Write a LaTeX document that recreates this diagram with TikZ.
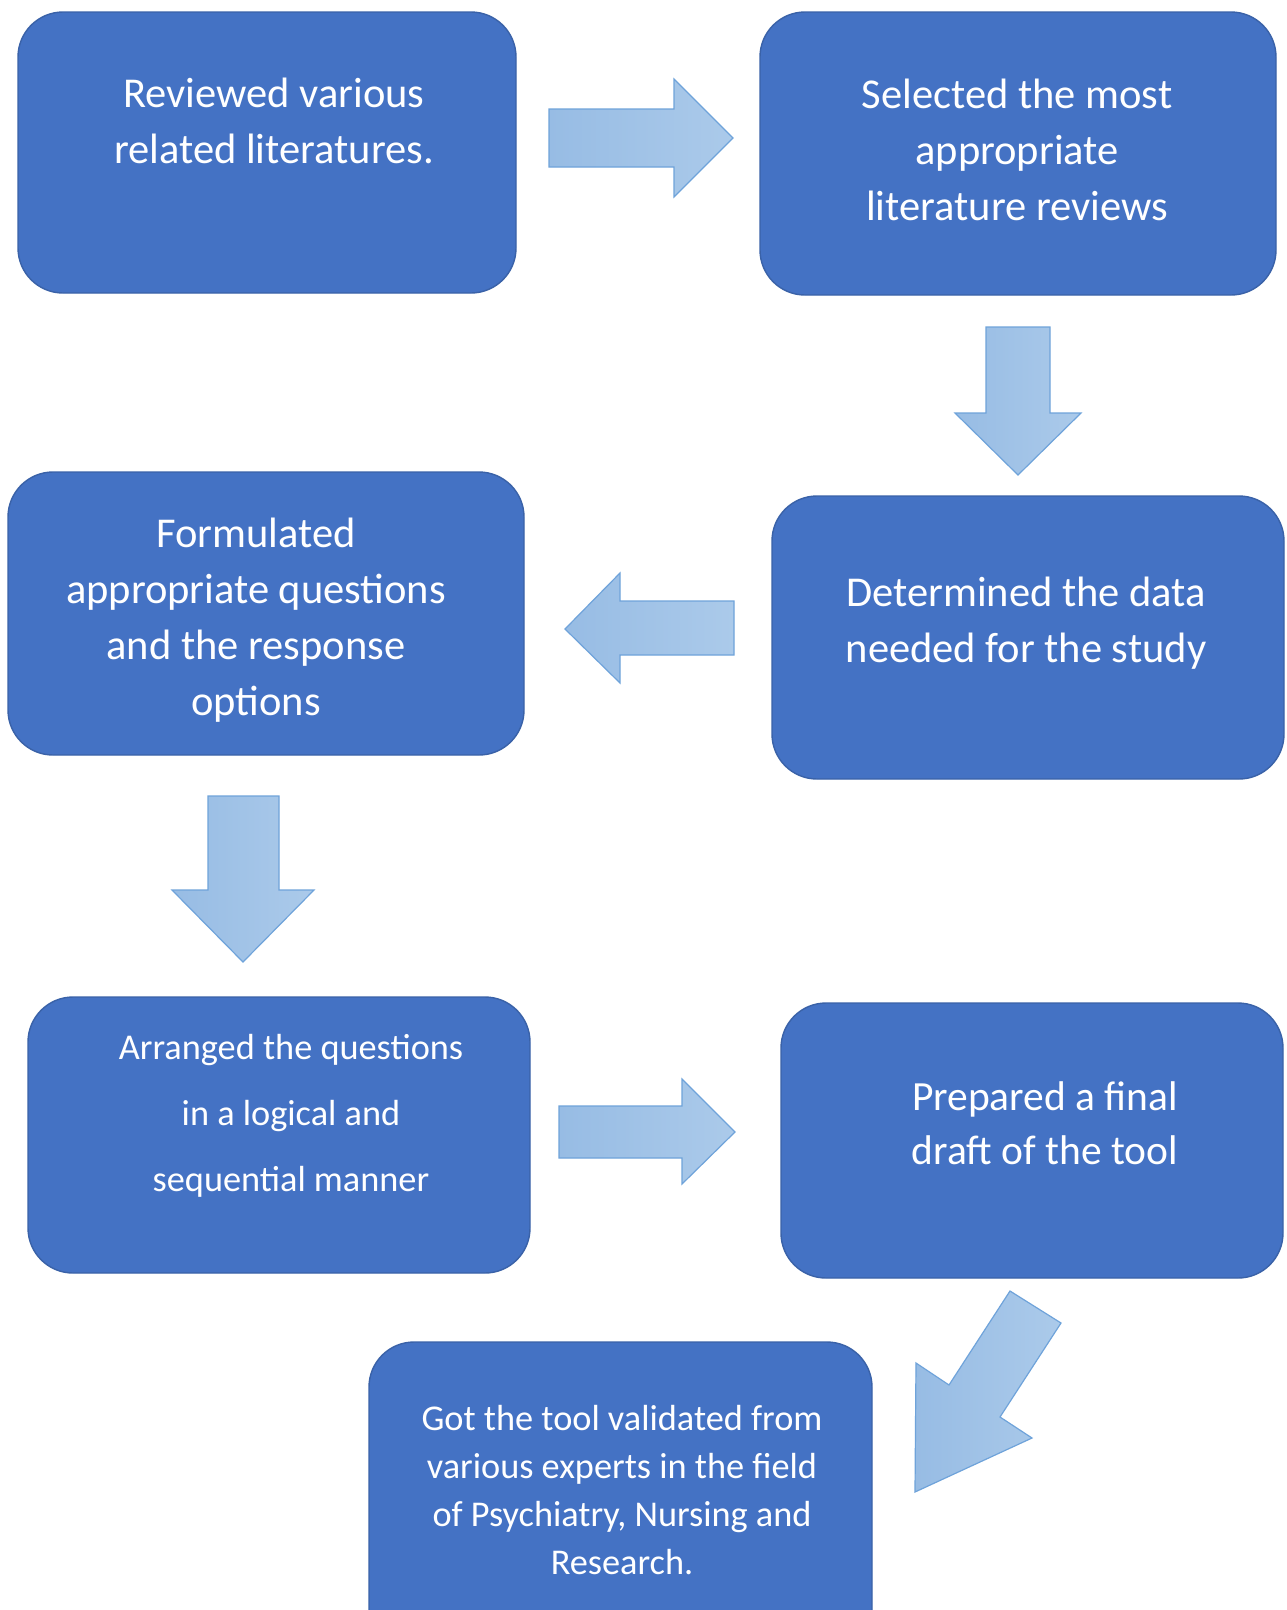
\documentclass[tikz,border=0pt]{standalone}
\usepackage{fontspec}
\setmainfont{Carlito}
\definecolor{boxfill}{HTML}{4472C4}
\definecolor{boxline}{HTML}{3A62A8}
\definecolor{arrowA}{HTML}{97BCE4}
\definecolor{arrowB}{HTML}{ABCAEA}
\definecolor{arrowline}{HTML}{6FA3DA}
\begin{document}
\begin{tikzpicture}[x=1pt,y=-1pt,
  stepbox/.style={draw=boxline, line width=1.4pt, fill=boxfill, rounded corners=45pt},
  steptext/.style={text=white, align=center, inner sep=0pt, font=#1},
  blockarrow/.style={draw=arrowline, line width=1.2pt, left color=arrowA, right color=arrowB, line join=miter}
]
\useasboundingbox (0,0) rectangle (1286,1610);
\fill[white] (0,0) rectangle (1286,1610);
\begin{scope}
\clip (0,0) rectangle (1286,1610);

% process boxes
\path[stepbox] (18,12) rectangle (516,293);
\node[coordinate] (b1) at (267,152) {};
\path[stepbox] (760,12) rectangle (1276,295);
\node[coordinate] (b2) at (1018,153) {};
\path[stepbox] (772,496) rectangle (1284,779);
\node[coordinate] (b3) at (1028,637) {};
\path[stepbox] (8,472) rectangle (524,755);
\node[coordinate] (b4) at (266,614) {};
\path[stepbox] (28,997) rectangle (530,1273);
\node[coordinate] (b5) at (279,1135) {};
\path[stepbox] (781,1003) rectangle (1283,1278);
\node[coordinate] (b6) at (1032,1140) {};
\path[stepbox] (369,1342) rectangle (872,1660);
\node[coordinate] (b7) at (620,1500) {};

% step texts
\node[steptext={\fontsize{42.5}{56}\selectfont}] (t1) at (274,121)
  {Reviewed various\\related literatures.};
\node[steptext={\fontsize{42.5}{56}\selectfont}] (t2) at (1017,150)
  {Selected the most\\appropriate\\literature reviews};
\node[steptext={\fontsize{42.5}{56}\selectfont}] (t3) at (1026,623)
  {Determined the data\\needed for the study};
\node[steptext={\fontsize{42.5}{56}\selectfont}] (t4) at (256,620)
  {Formulated\\appropriate questions\\and the response\\options};
\node[steptext={\fontsize{36.3}{66}\selectfont}] (t5) at (291,1116)
  {Arranged the questions\\in a logical and\\sequential manner};
\node[steptext={\fontsize{41.5}{54}\selectfont}] (t6) at (1045,1123)
  {Prepared a final\\draft of the tool};
\node[steptext={\fontsize{36.3}{48}\selectfont}] (t7) at (622,1490)
  {Got the tool validated from\\various experts in the field\\of Psychiatry, Nursing and\\Research.};
\end{scope}

% block arrows between the steps
\path[blockarrow] (549,109) -- (674,109) -- (674,79) -- (733,138)
  -- (674,197) -- (674,167) -- (549,167) -- cycle;
\path[blockarrow] (986,327) -- (1050,327) -- (1050,413) -- (1081,413)
  -- (1018,475) -- (955,413) -- (986,413) -- cycle;
\path[blockarrow] (734,601) -- (620,601) -- (620,573) -- (565,629)
  -- (620,683) -- (620,655) -- (734,655) -- cycle;
\path[blockarrow] (208,796) -- (279,796) -- (279,890) -- (314,890)
  -- (243,962) -- (172,890) -- (208,890) -- cycle;
\path[blockarrow] (559,1106) -- (682,1106) -- (682,1079) -- (735,1132)
  -- (682,1184) -- (682,1158) -- (559,1158) -- cycle;
\path[blockarrow] (1010,1291) -- (1061,1323) -- (1000,1417) -- (1032,1438)
  -- (915,1492) -- (916,1363) -- (949,1385) -- cycle;
\end{tikzpicture}
\end{document}
